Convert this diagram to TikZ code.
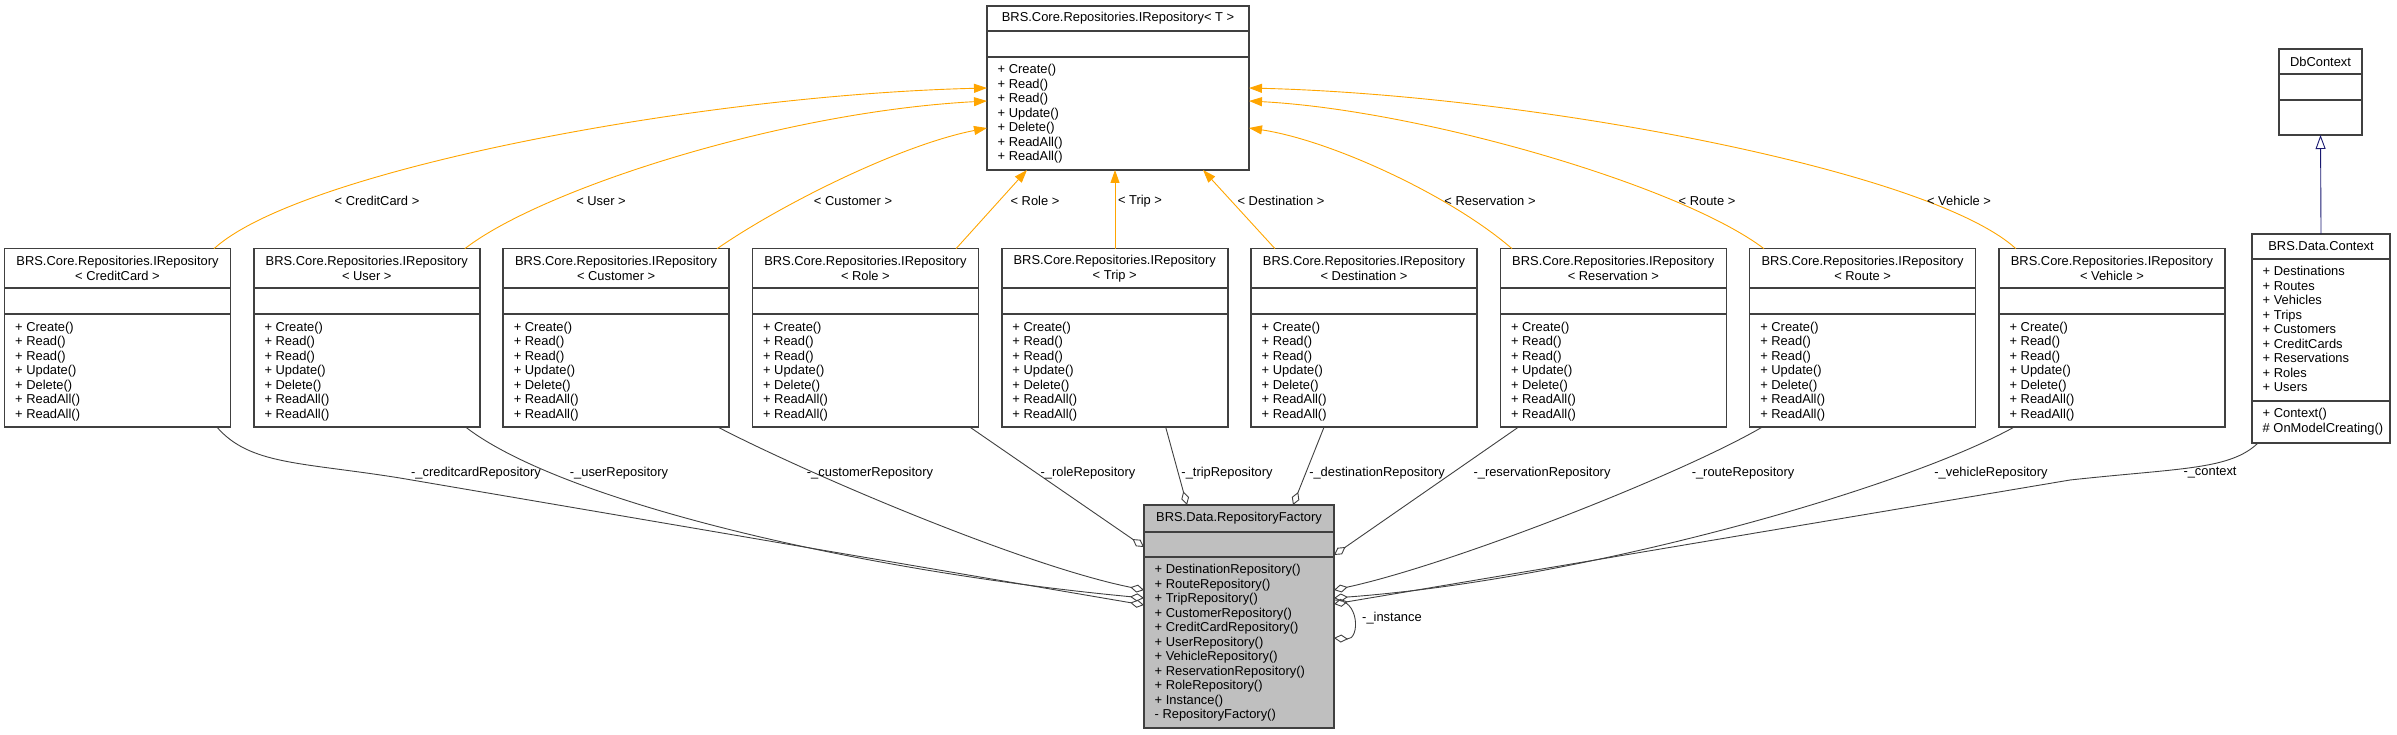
\documentclass[tikz,border=0pt]{standalone}
\usepackage{fontspec}
\setmainfont{Liberation Sans}
\usetikzlibrary{arrows.meta}
\definecolor{framegray}{HTML}{404040}
\definecolor{tmplorange}{HTML}{FFA500}
\definecolor{aggrgray}{HTML}{404040}
\definecolor{inhblue}{HTML}{191970}
\definecolor{factorygray}{HTML}{BFBFBF}
\newcommand{\classfont}{\fontsize{12.9}{14.5}\selectfont}
% class box: style, name, top left, width, height, first rule, second rule, title
\newcommand{\umlclass}[8]{%
  \node[classframe,#1,minimum width=#4,minimum height=#5] (#2) at #3 {};
  \draw[classrule] ([yshift=-#6]#2.north west) -- ([yshift=-#6]#2.north east);
  \draw[classrule] ([yshift=-#7]#2.north west) -- ([yshift=-#7]#2.north east);
  \node[classtext,align=center] (#2-title) at ([yshift=-0.5*#6]#2.north) {#8};
}
% member list below a rule
\newcommand{\umlmembers}[4]{%
  \node[classtext,align=left,anchor=north west] (#1-#2) at ([xshift=10.5,yshift=-#3-7.3]#1.north west) {#4};
}
\newcommand{\repops}{+ Create()\\+ Read()\\+ Read()\\+ Update()\\+ Delete()\\+ ReadAll()\\+ ReadAll()}
\begin{document}
\begin{tikzpicture}[x=1pt,y=-1pt]
  \tikzset{
    classframe/.style={draw=framegray,line width=1.6pt,inner sep=0pt,outer sep=0pt,anchor=north west},
    classrule/.style={draw=framegray,line width=1.6pt},
    classtext/.style={inner sep=0pt,font=\classfont},
    lab/.style={inner sep=0pt,font=\classfont},
    tmpl/.style={draw=tmplorange,line width=0.9pt,-{Triangle[length=13pt,width=9pt]}},
    aggr/.style={draw=aggrgray,line width=0.9pt,-{Diamond[open,length=14pt,width=8pt]}},
    inh/.style={draw=inhblue,line width=0.9pt,-{Triangle[open,length=14pt,width=10pt]}}
  }
  \useasboundingbox (0,0) rectangle (2397,735);

  % template and its instantiations
  \umlclass{}{irep}{(987,6)}{262}{164}{25}{51}{BRS.Core.Repositories.IRepository< T >}
  \umlmembers{irep}{ops}{51}{\repops}
  \foreach \tname [count=\i from 0] in {CreditCard,User,Customer,Role,Trip,Destination,Reservation,Route,Vehicle}{
    \umlclass{}{rep\tname}{(4.5+249.3*\i,248.7)}{226}{178.5}{39.5}{65.5}{BRS.Core.Repositories.IRepository\\< \tname\ >}
    \umlmembers{rep\tname}{ops}{65.5}{\repops}
  }

  % factory
  \umlclass{fill=factorygray}{fac}{(1144,505)}{190}{223}{27}{52}{BRS.Data.RepositoryFactory}
  \umlmembers{fac}{ops}{52}{+ DestinationRepository()\\+ RouteRepository()\\+ TripRepository()\\+ CustomerRepository()\\+ CreditCardRepository()\\+ UserRepository()\\+ VehicleRepository()\\+ ReservationRepository()\\+ RoleRepository()\\+ Instance()\\- RepositoryFactory()}

  % context
  \umlclass{}{dbc}{(2279,49)}{83}{86}{25}{51}{DbContext}
  \umlclass{}{ctx}{(2252,234)}{138}{209}{25}{167}{BRS.Data.Context}
  \umlmembers{ctx}{attrs}{25}{+ Destinations\\+ Routes\\+ Vehicles\\+ Trips\\+ Customers\\+ CreditCards\\+ Reservations\\+ Roles\\+ Users}
  \umlmembers{ctx}{ops}{167}{+ Context()\\\# OnModelCreating()}
  \draw[inh] (ctx.north) -- (dbc.south);

  % template arguments
  \draw[tmpl] ([xshift=209.5]repCreditCard.north west) .. controls (300,170) and (700,95) .. ([yshift=-82]irep.north west);
  \draw[tmpl] ([xshift=211]repUser.north west) .. controls (540,190) and (780,112) .. ([yshift=-95]irep.north west);
  \draw[tmpl] ([xshift=214]repCustomer.north west) .. controls (780,205) and (900,145) .. ([yshift=-122]irep.north west);
  \draw[tmpl] ([xshift=203.6]repRole.north west) -- ([xshift=40]irep.south west);
  \draw[tmpl] ([xshift=113.3]repTrip.north west) -- ([xshift=128]irep.south west);
  \draw[tmpl] ([xshift=24]repDestination.north west) -- ([xshift=216]irep.south west);
  \draw[tmpl] ([xshift=11.7]repReservation.north west) .. controls (1450,195) and (1330,140) .. ([yshift=-122]irep.north east);
  \draw[tmpl] ([xshift=14.4]repRoute.north west) .. controls (1680,185) and (1420,110) .. ([yshift=-95]irep.north east);
  \draw[tmpl] ([xshift=17]repVehicle.north west) .. controls (1930,170) and (1530,95) .. ([yshift=-82]irep.north east);
  \node[lab] (tCreditCard) at (377,201) {< CreditCard >};
  \node[lab] (tUser) at (601,201) {< User >};
  \node[lab] (tCustomer) at (853,201) {< Customer >};
  \node[lab] (tRole) at (1035,201) {< Role >};
  \node[lab] (tTrip) at (1140,201) {< Trip >};
  \node[lab] (tDestination) at (1281,201) {< Destination >};
  \node[lab] (tReservation) at (1490,201) {< Reservation >};
  \node[lab] (tRoute) at (1707,201) {< Route >};
  \node[lab] (tVehicle) at (1959,201) {< Vehicle >};

  % members of the factory
  \draw[aggr] ([xshift=212.5]repCreditCard.south west) .. controls (250,465) and (300,462) .. (400,478) -- ([yshift=-100]fac.north west);
  \draw[aggr] ([xshift=212]repUser.south west) .. controls (560,500) and (850,570) .. ([yshift=-93]fac.north west);
  \draw[aggr] ([xshift=215]repCustomer.south west) .. controls (800,470) and (1020,565) .. ([yshift=-85]fac.north west);
  \draw[aggr] ([xshift=217.6]repRole.south west) -- ([yshift=-42]fac.north west);
  \draw[aggr] ([xshift=164]repTrip.south west) -- ([xshift=43]fac.north west);
  \draw[aggr] ([xshift=73]repDestination.south west) -- ([xshift=149]fac.north west);
  \draw[aggr] ([xshift=18]repReservation.south west) -- ([yshift=-50]fac.north east);
  \draw[aggr] ([xshift=12.4]repRoute.south west) .. controls (1680,475) and (1450,565) .. ([yshift=-85]fac.north east);
  \draw[aggr] ([xshift=15]repVehicle.south west) .. controls (1900,490) and (1580,580) .. ([yshift=-93]fac.north east);
  \draw[aggr] ([xshift=6]ctx.south west) .. controls (2230,470) and (2180,468) .. (2070,480) -- ([yshift=-99]fac.north east);
  \draw[aggr] ([yshift=-95]fac.north east) .. controls (1360,598) and (1360,640) .. ([yshift=-133]fac.north east);
  \node[lab] (mCreditCard) at (476,473) {-\_creditcardRepository};
  \node[lab] (mUser) at (619,473) {-\_userRepository};
  \node[lab] (mCustomer) at (870,473) {-\_customerRepository};
  \node[lab] (mRole) at (1088,473) {-\_roleRepository};
  \node[lab] (mTrip) at (1227,473) {-\_tripRepository};
  \node[lab] (mDestination) at (1377,473) {-\_destinationRepository};
  \node[lab] (mReservation) at (1542,473) {-\_reservationRepository};
  \node[lab] (mRoute) at (1743,473) {-\_routeRepository};
  \node[lab] (mVehicle) at (1991,473) {-\_vehicleRepository};
  \node[lab] (mContext) at (2210,473) {-\_context};
  \node[lab,anchor=west] (mInstance) at (1362,618) {-\_instance};
\end{tikzpicture}
\end{document}
